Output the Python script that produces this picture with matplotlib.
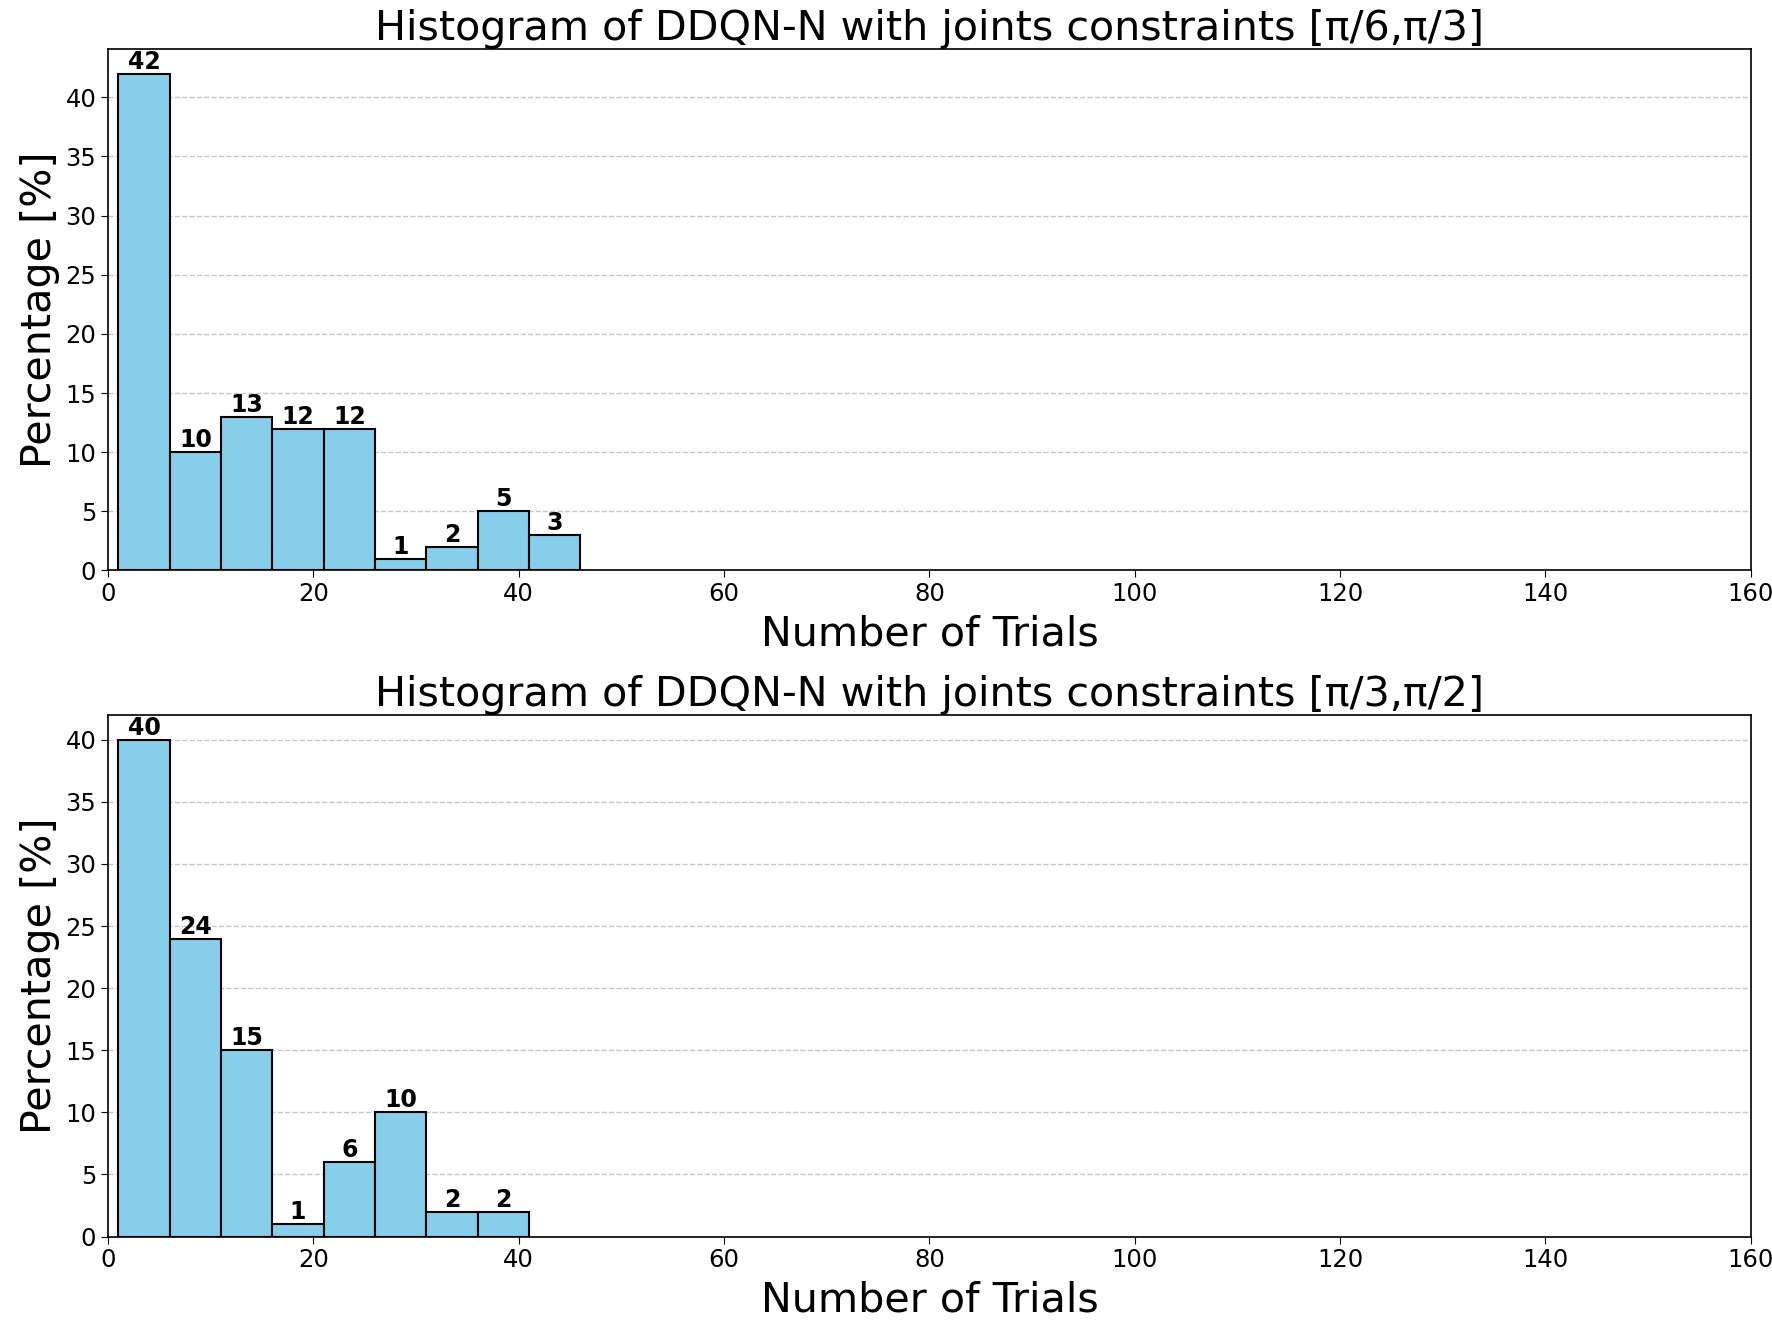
import matplotlib
matplotlib.use("Agg")
import matplotlib.pyplot as plt
import numpy as np

bin_width = 5
bin_start = 1

titles = ["Histogram of DDQN-N with joints constraints [π/6,π/3]",
          "Histogram of DDQN-N with joints constraints [π/3,π/2]"]
values_top = [42, 10, 13, 12, 12, 1, 2, 5, 3]
values_bottom = [40, 24, 15, 1, 6, 10, 2, 2]
xticks = [0, 20, 40, 60, 80, 100, 120, 140, 160]

fig, axes = plt.subplots(2, 1, figsize=(17.72, 13.2), dpi=100)
fig.subplots_adjust(left=0.061, right=0.988, top=0.963, bottom=0.0632, hspace=0.277)

for ax, title, vals in zip(axes, titles, [values_top, values_bottom]):
    edges = bin_start + bin_width * np.arange(len(vals))
    ax.bar(edges, vals, width=bin_width, align='edge', color='skyblue',
           edgecolor='black', linewidth=1.5, zorder=2)
    for e, v in zip(edges, vals):
        ax.text(e + bin_width / 2, v, str(v), ha='center', va='bottom',
                fontsize=17, fontweight='bold', zorder=3)
    ax.set_xlim(0, 160)
    ax.set_ylim(0, max(vals) * 1.05)
    ax.set_xticks(xticks)
    ax.set_yticks(np.arange(0, max(vals) + 1, 5))
    ax.tick_params(labelsize=17.5, length=5)
    ax.yaxis.grid(True, linestyle='--', color='#b0b0b0', alpha=0.7, linewidth=1)
    ax.set_axisbelow(True)
    ax.set_title(title, fontsize=29.7, pad=6)
    ax.set_xlabel("Number of Trials", fontsize=29.7, labelpad=6)
    ax.set_ylabel("Percentage [%]", fontsize=29.7, labelpad=4)
    for s in ax.spines.values():
        s.set_linewidth(1.2)

fig.savefig("out.png", dpi=100)
